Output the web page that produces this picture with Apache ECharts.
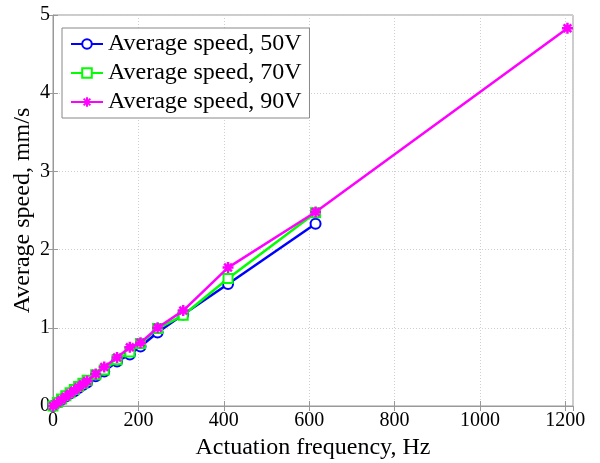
<!DOCTYPE html>
<html>
<head>
<meta charset="utf-8">
<script src="https://cdn.jsdelivr.net/npm/echarts@6/dist/echarts.min.js"></script>
<style>
  html, body { margin: 0; padding: 0; background: #fff; }
  #main { width: 600px; height: 463px; }
</style>
</head>
<body>
<div id="main"></div>
<script>
// frequencies (Hz) and speeds (mm/s)
const freq = [0, 10, 20, 30, 40, 50, 60, 70, 80, 100, 120, 150, 180, 205, 245, 305, 410, 615];
const speed50 = [0, 0.04, 0.08, 0.12, 0.16, 0.19, 0.23, 0.27, 0.30, 0.38, 0.44, 0.57, 0.66, 0.76, 0.94, 1.17, 1.56, 2.33];
const speed70 = [0, 0.045, 0.09, 0.13, 0.17, 0.21, 0.25, 0.29, 0.33, 0.40, 0.46, 0.59, 0.69, 0.80, 0.99, 1.16, 1.63, 2.47];
const freq90 = [0, 10, 20, 30, 40, 50, 60, 70, 80, 100, 120, 150, 180, 205, 245, 305, 410, 615, 1205];
const speed90 = [0, 0.04, 0.08, 0.12, 0.16, 0.20, 0.24, 0.28, 0.32, 0.41, 0.50, 0.62, 0.75, 0.81, 1.00, 1.22, 1.77, 2.48, 4.83];
const xTicks = [0, 200, 400, 600, 800, 1000, 1200];
const seriesNames = ['Average speed, 50V', 'Average speed, 70V', 'Average speed, 90V'];

const pairs = (xs, ys) => xs.map((x, i) => [x, ys[i]]);
const font = 'Liberation Serif';
const asterisk = 'path://M0,-10L0,10M-10,0L10,0M-7,-7L7,7M-7,7L7,-7';

const chart = echarts.init(document.getElementById('main'), null, { renderer: 'canvas' });

const grid = {
  left: 53, right: 27, top: 15, bottom: 57,
  outerBoundsMode: 'none',
  show: true, borderColor: '#999', borderWidth: 1
};
const splitLine = { show: true, lineStyle: { color: '#d0d0d0', type: [1, 2], width: 1 } };
const tickStyle = { show: true, inside: true, length: 5, lineStyle: { color: '#999' } };

const option = {
  backgroundColor: '#fff',
  animation: false,
  grid: grid,
  legend: {
    orient: 'vertical',
    left: 62,
    top: 28,
    padding: [4, 8, 4, 8],
    itemGap: 5,
    itemWidth: 32,
    itemHeight: 12,
    backgroundColor: '#fff',
    borderColor: '#888',
    borderWidth: 1,
    borderRadius: 0,
    textStyle: { fontFamily: font, fontSize: 24, color: '#000' },
    data: seriesNames
  },
  xAxis: [{
    type: 'value',
    min: 0,
    max: 1218,
    interval: 200,
    name: 'Actuation frequency, Hz',
    nameLocation: 'middle',
    nameGap: 24,
    nameTextStyle: { fontFamily: font, fontSize: 24, color: '#000' },
    axisLine: { show: true, onZero: false, lineStyle: { color: '#999' } },
    axisTick: tickStyle,
    axisLabel: {
      fontFamily: font, fontSize: 20, color: '#000', margin: 5,
      showMaxLabel: false,
      formatter: v => (xTicks.indexOf(v) >= 0 ? String(v) : '')
    },
    splitLine: splitLine
  }, {
    type: 'value',
    position: 'top',
    min: 0,
    max: 1218,
    interval: 200,
    axisLine: { show: false },
    axisTick: tickStyle,
    axisLabel: { show: false },
    splitLine: { show: false }
  }],
  yAxis: [{
    type: 'value',
    min: 0,
    max: 5,
    interval: 1,
    name: 'Average speed, mm/s',
    nameLocation: 'middle',
    nameGap: 18,
    nameMoveOverlap: false,
    nameTextStyle: { fontFamily: font, fontSize: 24, color: '#000' },
    axisLine: { show: true, lineStyle: { color: '#999' } },
    axisTick: tickStyle,
    axisLabel: { fontFamily: font, fontSize: 20, color: '#000', margin: 3 },
    splitLine: splitLine
  }, {
    type: 'value',
    position: 'right',
    min: 0,
    max: 5,
    interval: 1,
    axisLine: { show: false },
    axisTick: tickStyle,
    axisLabel: { show: false },
    splitLine: { show: false }
  }],
  series: [
    {
      name: seriesNames[0],
      type: 'line',
      data: pairs(freq, speed50),
      symbol: 'emptyCircle',
      symbolSize: 10,
      lineStyle: { color: '#0000ff', width: 2.5 },
      itemStyle: { color: '#0000ff', borderColor: '#0000ff', borderWidth: 2 },
      z: 2
    },
    {
      name: seriesNames[1],
      type: 'line',
      data: pairs(freq, speed70),
      symbol: 'emptyRect',
      symbolSize: 9,
      lineStyle: { color: '#00ff00', width: 2.5 },
      itemStyle: { color: '#00ff00', borderColor: '#00ff00', borderWidth: 2 },
      z: 3
    },
    {
      name: seriesNames[2],
      type: 'line',
      data: pairs(freq90, speed90),
      symbol: asterisk,
      symbolSize: 11,
      lineStyle: { color: '#ff00ff', width: 2.5 },
      itemStyle: { color: '#ff00ff', borderColor: '#ff00ff', borderWidth: 2.5 },
      z: 4
    }
  ]
};

chart.setOption(option);
</script>
</body>
</html>
